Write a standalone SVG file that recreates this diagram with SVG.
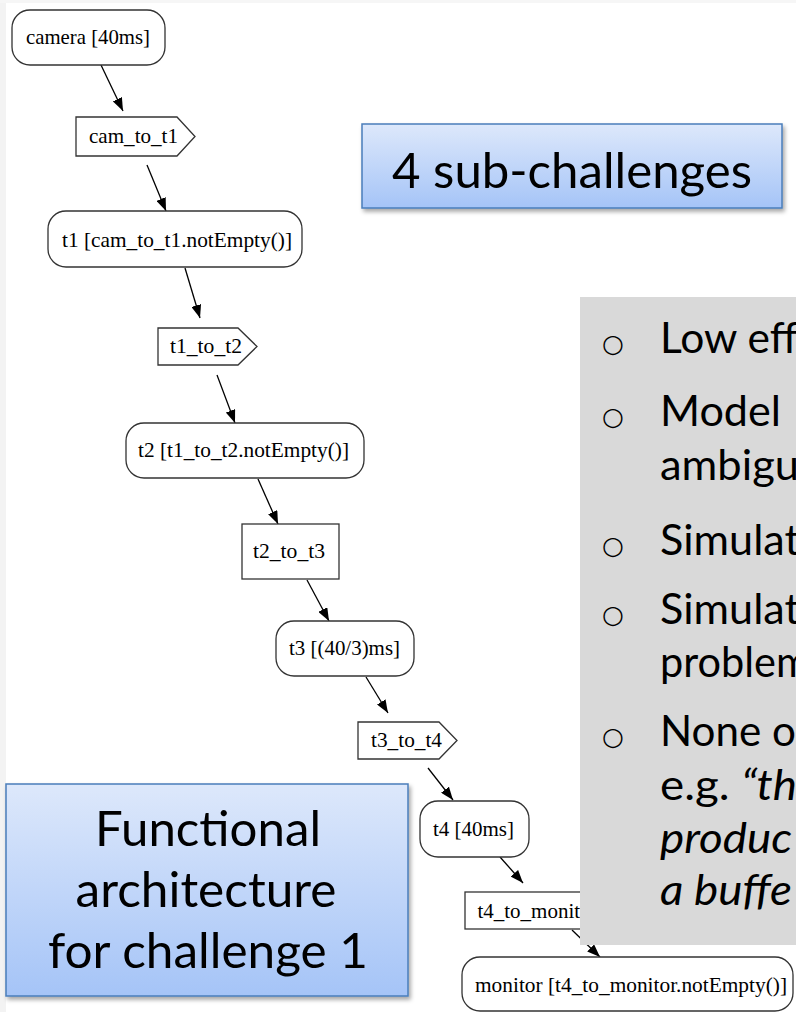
<svg xmlns="http://www.w3.org/2000/svg" width="796" height="1012" viewBox="0 0 796 1012">
  <defs>
    <style>
      .node { fill: #ffffff; stroke: #333333; stroke-width: 1.3; }
      .lbl { font-family: "Liberation Serif", "Times New Roman", serif; font-size: 21px; fill: #000; text-anchor: middle; }
      .edge { stroke: #000; stroke-width: 1.3; fill: none; marker-end: url(#arrow); }
      .callout { fill: url(#blueFill); stroke: #4a7ebb; stroke-width: 1.5; filter: url(#shadow); }
      .ctext { font-family: "Lato", "Open Sans", sans-serif; font-size: 48px; fill: #000; text-anchor: middle; }
      .gtext { font-family: "Lato", "Open Sans", sans-serif; font-size: 42px; fill: #000; }
      .bullet { font-family: "DejaVu Sans", sans-serif; font-size: 25px; fill: #000; }
    </style>
    <marker id="arrow" markerUnits="userSpaceOnUse" markerWidth="13" markerHeight="10" refX="13" refY="5" orient="auto">
      <path d="M0,0 L13,5 L0,10 z" fill="#000"/>
    </marker>
    <linearGradient id="blueFill" x1="0" y1="0" x2="0" y2="1">
      <stop offset="0" stop-color="#dde8fb"/>
      <stop offset="1" stop-color="#a5c4f7"/>
    </linearGradient>
    <filter id="shadow" x="-10%" y="-10%" width="120%" height="130%">
      <feDropShadow dx="2" dy="3" stdDeviation="2" flood-color="#000" flood-opacity="0.35"/>
    </filter>
  </defs>

  <rect x="0" y="0" width="796" height="1012" fill="#ffffff"/>
  <rect x="0" y="0" width="6" height="1012" fill="#f3f3f3"/>
  <rect x="0" y="0" width="796" height="3" fill="#f6f6f6"/>

  <!-- connectors of the task graph -->
  <g id="connectors">
    <line class="edge" x1="101" y1="65" x2="123" y2="111"/>
    <line class="edge" x1="147" y1="165" x2="166" y2="211"/>
    <line class="edge" x1="185" y1="268" x2="200" y2="318"/>
    <line class="edge" x1="217" y1="375" x2="235" y2="423"/>
    <line class="edge" x1="258" y1="479" x2="278" y2="524"/>
    <line class="edge" x1="307" y1="580" x2="329" y2="621"/>
    <line class="edge" x1="366" y1="677" x2="388" y2="713"/>
    <line class="edge" x1="428" y1="768" x2="453" y2="800"/>
    <line class="edge" x1="500" y1="857" x2="523" y2="883"/>
    <line class="edge" x1="572" y1="930" x2="600" y2="957"/>
  </g>

  <!-- task and buffer nodes -->
  <g id="camera">
    <rect class="node" x="12" y="10" width="153" height="55" rx="18"/>
    <text class="lbl" x="88" y="44" textLength="124" lengthAdjust="spacingAndGlyphs">camera [40ms]</text>
  </g>
  <g id="cam_to_t1">
    <polygon class="node" points="76,117 177,117 195,136.5 177,156 76,156"/>
    <text class="lbl" x="133.5" y="143" textLength="89" lengthAdjust="spacingAndGlyphs">cam_to_t1</text>
  </g>
  <g id="t1">
    <rect class="node" x="48" y="211" width="254" height="56" rx="18"/>
    <text class="lbl" x="177" y="247" textLength="230" lengthAdjust="spacingAndGlyphs">t1 [cam_to_t1.notEmpty()]</text>
  </g>
  <g id="t1_to_t2">
    <polygon class="node" points="158,328 238,328 257,346.5 238,365 158,365"/>
    <text class="lbl" x="206" y="353" textLength="72" lengthAdjust="spacingAndGlyphs">t1_to_t2</text>
  </g>
  <g id="t2">
    <rect class="node" x="126" y="423" width="238" height="55" rx="18"/>
    <text class="lbl" x="243.5" y="457" textLength="211" lengthAdjust="spacingAndGlyphs">t2 [t1_to_t2.notEmpty()]</text>
  </g>
  <g id="t2_to_t3">
    <rect class="node" x="242" y="524" width="97" height="55"/>
    <text class="lbl" x="289" y="558" textLength="72" lengthAdjust="spacingAndGlyphs">t2_to_t3</text>
  </g>
  <g id="t3">
    <rect class="node" x="276" y="621" width="138" height="55" rx="18"/>
    <text class="lbl" x="344.5" y="655" textLength="111" lengthAdjust="spacingAndGlyphs">t3 [(40/3)ms]</text>
  </g>
  <g id="t3_to_t4">
    <polygon class="node" points="358,722 439,722 457,740.5 439,759 358,759"/>
    <text class="lbl" x="406.5" y="747" textLength="71" lengthAdjust="spacingAndGlyphs">t3_to_t4</text>
  </g>
  <g id="t4">
    <rect class="node" x="420" y="801" width="109" height="56" rx="18"/>
    <text class="lbl" x="473.5" y="836" textLength="81" lengthAdjust="spacingAndGlyphs">t4 [40ms]</text>
  </g>
  <g id="t4_to_monitor">
    <rect class="node" x="465" y="892" width="145" height="37"/>
    <text class="lbl" x="537.5" y="918">t4_to_monitor</text>
  </g>
  <g id="monitor">
    <rect class="node" x="462" y="957" width="331" height="54" rx="18"/>
    <text class="lbl" x="631" y="992" textLength="312" lengthAdjust="spacingAndGlyphs">monitor [t4_to_monitor.notEmpty()]</text>
  </g>

  <!-- callout: sub-challenges -->
  <g id="subchallenges">
    <rect class="callout" x="362" y="124" width="420" height="84"/>
    <text class="ctext" x="572" y="188" textLength="360" lengthAdjust="spacingAndGlyphs">4 sub-challenges</text>
  </g>

  <!-- grey panel listing the sub-challenges -->
  <g id="challenge-list">
    <rect x="580" y="297" width="216" height="648" fill="#d9d9d9"/>
    <text class="bullet" x="602" y="352">○</text>
    <text class="gtext" x="660" y="353" textLength="138" lengthAdjust="spacingAndGlyphs">Low eff</text>
    <text class="bullet" x="602" y="425">○</text>
    <text class="gtext" x="660" y="426" textLength="121" lengthAdjust="spacingAndGlyphs">Model</text>
    <text class="gtext" x="660" y="480" textLength="139" lengthAdjust="spacingAndGlyphs">ambigu</text>
    <text class="bullet" x="602" y="554">○</text>
    <text class="gtext" x="660" y="555" textLength="140" lengthAdjust="spacingAndGlyphs">Simulat</text>
    <text class="bullet" x="602" y="623">○</text>
    <text class="gtext" x="660" y="624" textLength="140" lengthAdjust="spacingAndGlyphs">Simulat</text>
    <text class="gtext" x="660" y="677" textLength="150" lengthAdjust="spacingAndGlyphs">problem</text>
    <text class="bullet" x="602" y="745">○</text>
    <text class="gtext" x="660" y="746" textLength="136" lengthAdjust="spacingAndGlyphs">None o</text>
    <text class="gtext" x="660" y="800" textLength="137" lengthAdjust="spacingAndGlyphs">e.g. <tspan font-style="italic">“th</tspan></text>
    <text class="gtext" x="660" y="853" font-style="italic" textLength="132" lengthAdjust="spacingAndGlyphs">produc</text>
    <text class="gtext" x="660" y="905" font-style="italic" textLength="132" lengthAdjust="spacingAndGlyphs">a buffe</text>
  </g>

  <!-- callout: functional architecture -->
  <g id="functional-architecture">
    <rect class="callout" x="6" y="784" width="402" height="212"/>
    <text class="ctext" x="208" y="846" textLength="226" lengthAdjust="spacingAndGlyphs">Functional</text>
    <text class="ctext" x="206" y="907" textLength="261" lengthAdjust="spacingAndGlyphs">architecture</text>
    <text class="ctext" x="208" y="968" textLength="320" lengthAdjust="spacingAndGlyphs">for challenge 1</text>
  </g>
</svg>
